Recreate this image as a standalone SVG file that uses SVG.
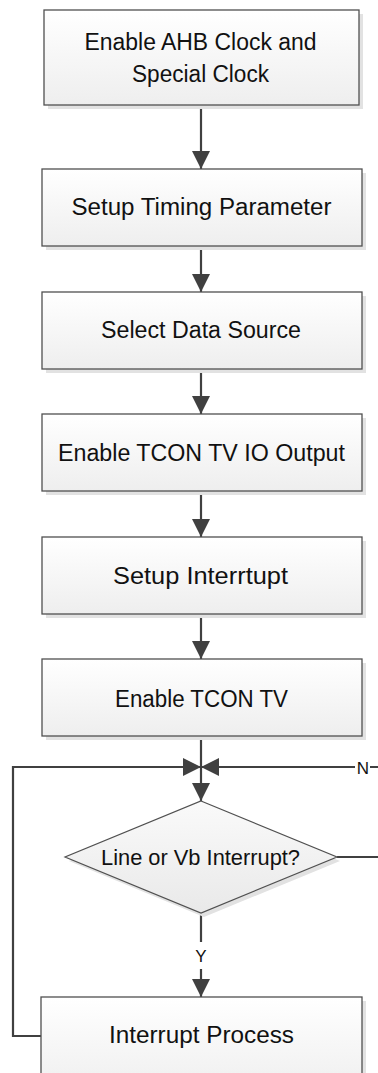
<svg xmlns="http://www.w3.org/2000/svg" width="378" height="1073" viewBox="0 0 378 1073">
<defs>
<linearGradient id="boxFill" x1="0" y1="0" x2="0" y2="1">
<stop offset="0" stop-color="#ffffff"/>
<stop offset="1" stop-color="#eeeeee"/>
</linearGradient>
<linearGradient id="diaFill" x1="0" y1="0" x2="0" y2="1">
<stop offset="0" stop-color="#fafafa"/>
<stop offset="1" stop-color="#e9e9e9"/>
</linearGradient>
<marker id="arrow" markerUnits="userSpaceOnUse" markerWidth="18" markerHeight="18" refX="18" refY="9" orient="auto">
<path d="M0,0 L18,9 L0,18 Z" fill="#404040"/>
</marker>
<style>
.box{fill:url(#boxFill);stroke:#505050;stroke-width:1.3}
.shadow{fill:#e2e2e2}
.dia{fill:url(#diaFill);stroke:#505050;stroke-width:1.2}
.txt{font-family:"Liberation Sans",Arial,sans-serif;font-size:23.5px;fill:#111111;text-anchor:middle}
.dtxt{font-family:"Liberation Sans",Arial,sans-serif;font-size:21.5px;fill:#111111;text-anchor:middle}
.lbl{font-family:"Liberation Sans",Arial,sans-serif;font-size:17px;fill:#111111;text-anchor:middle}
.conn{fill:none;stroke:#404040;stroke-width:2.2}
</style>
</defs>
<rect width="378" height="1073" fill="#ffffff"/>

<g id="connectors">
<line class="conn" x1="201" y1="105" x2="201" y2="169" marker-end="url(#arrow)"/>
<line class="conn" x1="201" y1="246" x2="201" y2="292" marker-end="url(#arrow)"/>
<line class="conn" x1="201" y1="369" x2="201" y2="414" marker-end="url(#arrow)"/>
<line class="conn" x1="201" y1="491" x2="201" y2="537" marker-end="url(#arrow)"/>
<line class="conn" x1="201" y1="614" x2="201" y2="659" marker-end="url(#arrow)"/>
<line class="conn" x1="201" y1="736" x2="201" y2="801" marker-end="url(#arrow)"/>
<polyline class="conn" points="41,1036 13,1036 13,767 201,767" marker-end="url(#arrow)"/>
<polyline class="conn" points="337,857 382,857 382,767 201,767" marker-end="url(#arrow)"/>
<line class="conn" x1="201" y1="913" x2="201" y2="997" marker-end="url(#arrow)"/>
<rect x="355" y="758" width="15" height="18" fill="#ffffff"/>
<text class="lbl" x="363" y="773.5">N</text>
<rect x="192" y="942" width="18" height="27" fill="#ffffff"/>
<text class="lbl" x="201" y="961.5">Y</text>
</g>

<g id="node1">
<rect class="shadow" x="48" y="14" width="315" height="95"/>
<rect class="box" x="44" y="10" width="315" height="95"/>
<text class="txt" x="200.5" y="50" textLength="232" lengthAdjust="spacingAndGlyphs">Enable AHB Clock and</text>
<text class="txt" x="200.5" y="82" textLength="137" lengthAdjust="spacingAndGlyphs">Special Clock</text>
</g>
<g id="node2">
<rect class="shadow" x="46" y="173" width="320" height="77"/>
<rect class="box" x="42" y="169" width="320" height="77"/>
<text class="txt" x="201.5" y="215" textLength="260" lengthAdjust="spacingAndGlyphs">Setup Timing Parameter</text>
</g>
<g id="node3">
<rect class="shadow" x="46" y="296" width="320" height="77"/>
<rect class="box" x="42" y="292" width="320" height="77"/>
<text class="txt" x="201" y="338" textLength="200" lengthAdjust="spacingAndGlyphs">Select Data Source</text>
</g>
<g id="node4">
<rect class="shadow" x="46" y="418" width="320" height="77"/>
<rect class="box" x="42" y="414" width="320" height="77"/>
<text class="txt" x="201.5" y="461" textLength="287" lengthAdjust="spacingAndGlyphs">Enable TCON TV IO Output</text>
</g>
<g id="node5">
<rect class="shadow" x="46" y="541" width="320" height="77"/>
<rect class="box" x="42" y="537" width="320" height="77"/>
<text class="txt" x="200.5" y="584" textLength="175" lengthAdjust="spacingAndGlyphs">Setup Interrtupt</text>
</g>
<g id="node6">
<rect class="shadow" x="46" y="663" width="320" height="77"/>
<rect class="box" x="42" y="659" width="320" height="77"/>
<text class="txt" x="201.5" y="707" textLength="173" lengthAdjust="spacingAndGlyphs">Enable TCON TV</text>
</g>
<g id="decision">
<polygon class="shadow" points="204,805 340,861 204,917 69,861"/>
<polygon class="dia" points="201,801 337,857 201,913 65,857"/>
<text class="dtxt" x="200.5" y="865" textLength="199" lengthAdjust="spacingAndGlyphs">Line or Vb Interrupt?</text>
</g>
<g id="node7">
<rect class="shadow" x="45" y="1001" width="321" height="100"/>
<rect class="box" x="41" y="997" width="321" height="100"/>
<text class="txt" x="201.5" y="1043" textLength="185" lengthAdjust="spacingAndGlyphs">Interrupt Process</text>
</g>
</svg>
